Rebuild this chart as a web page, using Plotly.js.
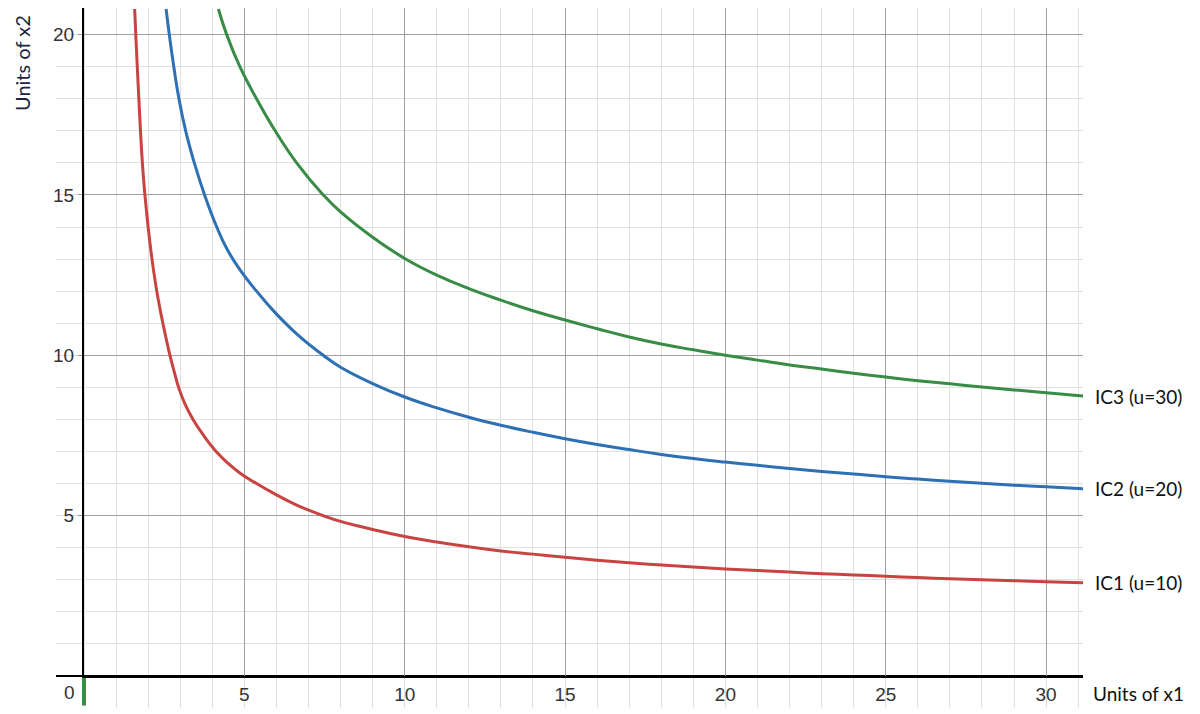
<!DOCTYPE html>
<html>
<head>
<meta charset="utf-8">
<script src="https://cdn.plot.ly/plotly-3.0.1.min.js"></script>
<style>html,body{margin:0;padding:0;background:#fff;}#chart{width:1200px;height:714px;}</style>
</head>
<body>
<div id="chart"></div>
<script>
// ---- Data ----
const ic1_x = [1.58,1.615,1.71,1.82,1.9,2.0,2.12,2.27,2.46,2.68,2.81,2.95,3.14,3.40,3.73,4.12,4.45,4.86,5.38,5.96,6.63,7.46,8,9,10,11,12,13,14,15,16,17,18,19,20,21,22,23,24,25,26,27,28,29,30,31.15];
const ic1_y = [20.8,20,18,16,15,14,13,12,11,10,9.5,9,8.5,8,7.5,7,6.67,6.33,6,5.67,5.33,5,4.82,4.57,4.35,4.18,4.03,3.9,3.8,3.7,3.61,3.53,3.46,3.4,3.34,3.29,3.24,3.19,3.15,3.11,3.07,3.03,3.0,2.97,2.94,2.91];

const ic2_x = [2.56,2.66,2.80,2.96,3.17,3.44,3.76,4.14,4.45,4.86,5.38,5.96,6.63,7.46,8,9,10,11,12,13,14,15,16,17,18,19,20,21,22,23,24,25,26,27,28,29,30,31.15];
const ic2_y = [20.8,20,19,18,17,16,15,14,13.33,12.67,12,11.33,10.67,10,9.63,9.12,8.7,8.36,8.07,7.82,7.6,7.4,7.22,7.06,6.91,6.78,6.67,6.57,6.47,6.38,6.3,6.21,6.14,6.07,6.01,5.95,5.9,5.84];

const ic3_x = [4.19,4.45,4.86,5.38,5.96,6.63,7.46,8,9,10,11,12,13,14,15,16,17,18,19,20,21,22,23,24,25,26,27,28,29,30,31.15];
const ic3_y = [20.8,20,19,18,17,16,15,14.47,13.68,13.02,12.5,12.08,11.72,11.39,11.1,10.83,10.57,10.35,10.17,10.0,9.85,9.7,9.57,9.44,9.32,9.21,9.11,9.01,8.92,8.83,8.73];

const curve_names = ["IC1 (u=10)", "IC2 (u=20)", "IC3 (u=30)"];
const x_ticks = [5,10,15,20,25,30];
const y_ticks = [5,10,15,20];
const x_title = "Units of x1";
const y_title = "Units of x2";

// ---- Layout / styling ----
const XMIN = -0.873, XMAX = 31.15, YMIN = -0.998, YMAX = 20.83;
const fx = (0 - XMIN) / (XMAX - XMIN);
const fy = (0 - YMIN) / (YMAX - YMIN);
const colors = ["#c74440", "#2d70b3", "#388c46"];
const tickFont = {family: "Liberation Sans, Arial, sans-serif", size: 19, color: "#333"};
const labelFont = {family: "Lato, 'Open Sans', sans-serif", size: 19, color: "#111"};

const series = [[ic1_x, ic1_y], [ic2_x, ic2_y], [ic3_x, ic3_y]];
const traces = series.map((s, i) => ({
  type: "scatter", mode: "lines", x: s[0], y: s[1],
  xaxis: "x2", yaxis: "y2", name: curve_names[i], hoverinfo: "skip",
  line: {color: colors[i], width: 3, shape: "spline", smoothing: 1.3}
}));

const annotations = series.map((s, i) => ({
  xref: "paper", x: 1, xanchor: "left", xshift: 10,
  yref: "y2", y: s[1][s[1].length - 1], yanchor: "middle",
  text: curve_names[i], showarrow: false, font: labelFont
}));
annotations.push({xref: "paper", x: 1, xanchor: "left", xshift: 8, yref: "y", y: -0.56, yanchor: "middle",
  text: x_title, showarrow: false, font: labelFont});
annotations.push({xref: "paper", x: 0, xshift: -34, xanchor: "center", yref: "paper", y: 1, yanchor: "top", yshift: -5,
  text: y_title, textangle: -90, showarrow: false,
  font: {family: "Lato, 'Open Sans', sans-serif", size: 20, color: "#1a2440"}});
annotations.push({xref: "x", x: -0.45, yref: "y", y: -0.53, text: "0", showarrow: false, font: tickFont});

const layout = {
  width: 1200, height: 714,
  margin: {l: 56, r: 117, t: 8, b: 6},
  paper_bgcolor: "#fff", plot_bgcolor: "rgba(0,0,0,0)",
  showlegend: false,
  xaxis: {range: [XMIN, XMAX], domain: [0, 1], tick0: 0, dtick: 1, showgrid: true, gridcolor: "#e0e0e0", gridwidth: 1,
    showticklabels: false, ticks: "", zeroline: false, showline: false, fixedrange: true},
  yaxis: {range: [YMIN, YMAX], domain: [0, 1], tick0: 0, dtick: 1, showgrid: true, gridcolor: "#e0e0e0", gridwidth: 1,
    showticklabels: false, ticks: "", zeroline: true, zerolinecolor: "#000", zerolinewidth: 2, showline: false, fixedrange: true},
  xaxis2: {range: [0, XMAX], domain: [fx, 1], anchor: "y2", tickmode: "array", tickvals: x_ticks,
    showgrid: true, gridcolor: "#a0a0a0", gridwidth: 1, showline: true, linecolor: "#000", linewidth: 2,
    ticks: "", zeroline: false, tickfont: tickFont, fixedrange: true},
  yaxis2: {range: [0, YMAX], domain: [fy, 1], anchor: "x2", tickmode: "array", tickvals: y_ticks,
    showgrid: true, gridcolor: "#a0a0a0", gridwidth: 1, showline: true, linecolor: "#000", linewidth: 2,
    ticks: "outside", ticklen: 4, tickcolor: "#999", zeroline: false, tickfont: tickFont, fixedrange: true},
  shapes: [{type: "line", xref: "x", yref: "y", x0: 0, x1: 0, y0: -0.06, y1: -0.92,
    line: {color: "#388c46", width: 4}}],
  annotations: annotations
};

Plotly.newPlot("chart", traces, layout, {displayModeBar: false, staticPlot: true});
</script>
</body>
</html>
